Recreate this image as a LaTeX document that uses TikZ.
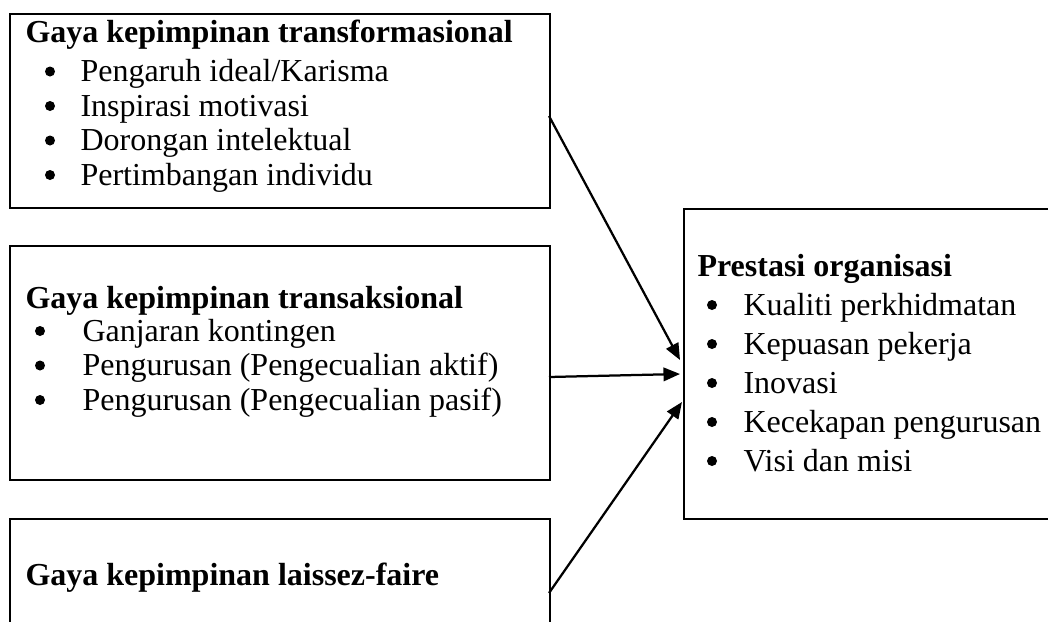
\documentclass[tikz,border=0pt]{standalone}
\usepackage{fontspec}
\setmainfont{Liberation Serif}
\usetikzlibrary{arrows.meta}
\begin{document}
\begin{tikzpicture}[x=0.4pt,y=-0.4pt,
  box/.style={draw=black,line width=0.9pt,anchor=north west,inner sep=0pt},
  txt/.style={anchor=base west,inner sep=0pt,font=\fontsize{12.8}{15}\selectfont},
  ttl/.style={txt,font=\fontsize{12.8}{15}\selectfont\bfseries},
  arr/.style={line width=0.9pt,-{Triangle[length=6.6pt,width=5.4pt]}},
  bul/.style={fill=black}]
\useasboundingbox (0,0) rectangle (1048,621);
\clip (0,0) rectangle (1048,621);
% boxes
\node[box,minimum width=216pt,minimum height=77.6pt] (b1) at (9,13) {};
\node[box,minimum width=216pt,minimum height=93.6pt] (b2) at (9,245) {};
\node[box,minimum width=216pt,minimum height=56pt] (b3) at (9,518) {};
\node[box,line width=0.7pt,minimum width=160pt,minimum height=124pt] (bp) at (683,208) {};
% box 1 text
\node[ttl] (t1) at (25,42.5) {Gaya kepimpinan transformasional};
\node[txt] (i11) at (80,81.5) {Pengaruh ideal/Karisma};
\node[txt] (i12) at (80,116) {Inspirasi motivasi};
\node[txt] (i13) at (80,150.5) {Dorongan intelektual};
\node[txt] (i14) at (80,185) {Pertimbangan individu};
\foreach \y in {81.5,116,150.5,185} \fill[bul] (50,\y-10) circle[radius=2pt];
% box 2 text
\node[ttl] (t2) at (25,308) {Gaya kepimpinan transaksional};
\node[txt] (i21) at (82,341) {Ganjaran kontingen};
\node[txt] (i22) at (82,375.5) {Pengurusan (Pengecualian aktif)};
\node[txt] (i23) at (82,410) {Pengurusan (Pengecualian pasif)};
\foreach \y in {341,375.5,410} \fill[bul] (40,\y-10) circle[radius=2pt];
% box 3 text
\node[ttl] (t3) at (25,585) {Gaya kepimpinan laissez-faire};
% right box text
\node[ttl] (tp) at (697,276.5) {Prestasi organisasi};
\node[txt] (p1) at (743,315) {Kualiti perkhidmatan};
\node[txt] (p2) at (743,354) {Kepuasan pekerja};
\node[txt] (p3) at (743,393) {Inovasi};
\node[txt] (p4) at (743,432) {Kecekapan pengurusan};
\node[txt] (p5) at (743,471) {Visi dan misi};
\foreach \y in {315,354,393,432,471} \fill[bul] (712,\y-10) circle[radius=2pt];
% connector ends
\coordinate (s1) at (549,116);
\coordinate (e1) at (680,360);
\coordinate (s2) at (549,377);
\coordinate (e2) at (680,374);
\coordinate (s3) at (549,593);
\coordinate (e3) at (682,402);
\draw[arr] (s1) -- (e1);
\draw[arr] (s2) -- (e2);
\draw[arr] (s3) -- (e3);
\end{tikzpicture}
\end{document}
